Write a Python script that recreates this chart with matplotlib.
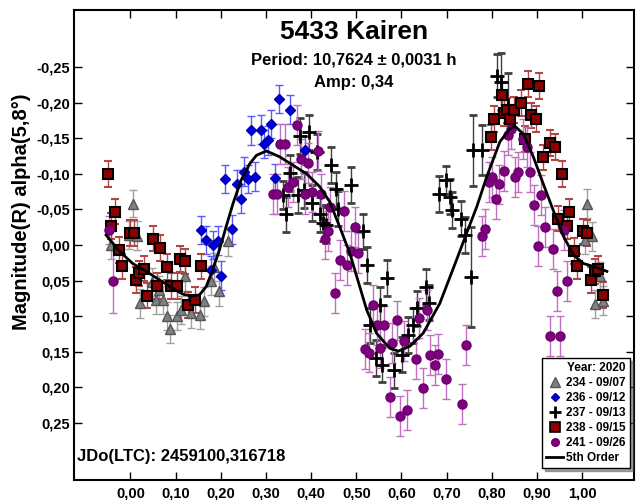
import matplotlib
matplotlib.use('Agg')
import matplotlib.pyplot as plt
from matplotlib.lines import Line2D
from matplotlib.ticker import FuncFormatter

plt.rcParams['font.family'] = ['Liberation Sans', 'DejaVu Sans']
plt.rcParams['font.weight'] = 'bold'

# 234 - 09/07 (grey triangles)
phase_234 = [-0.043, 0.005, -0.004, 0.014, 0.022, 0.048, 0.057, 0.064, 0.073, 0.081, 0.088, 0.103, 0.112,
             0.120, 0.133, 0.154, 0.162, 0.179, 0.186, 0.196, 0.217, 1.012, 1.007, 1.021, 1.029, 1.046, 1.040]
mag_234 = [0.000, -0.058, -0.014, -0.013, 0.082, 0.052, 0.077, 0.063, 0.077, 0.100, 0.118, 0.100, 0.091,
           0.044, 0.096, 0.098, 0.079, 0.050, 0.031, 0.065, -0.005, -0.058, -0.007, -0.012, 0.083, 0.078, 0.044]
err_234 = [0.02, 0.019, 0.02, 0.02, 0.02, 0.02, 0.02, 0.02, 0.02, 0.02, 0.02, 0.02, 0.02,
           0.02, 0.02, 0.02, 0.02, 0.02, 0.02, 0.02, 0.02, 0.02, 0.02, 0.02, 0.02, 0.02, 0.02]

# 236 - 09/12 (blue diamonds)
phase_236 = [0.157, 0.167, 0.179, 0.183, 0.194, 0.201, 0.210, 0.225, 0.236, 0.244, 0.251, 0.260, 0.268,
             0.276, 0.288, 0.295, 0.305, 0.312, 0.319, 0.329, 0.354, 0.386]
mag_236 = [-0.021, -0.007, 0.035, 0.000, -0.006, 0.043, -0.093, -0.022, -0.086, -0.065, -0.103, -0.093, -0.161,
           -0.096, -0.162, -0.142, -0.147, -0.170, -0.094, -0.205, -0.190, -0.133]
err_236 = [0.02, 0.02, 0.02, 0.02, 0.02, 0.02, 0.02, 0.02, 0.02, 0.02, 0.02, 0.02, 0.02,
           0.02, 0.02, 0.02, 0.02, 0.02, 0.02, 0.02, 0.02, 0.02]

# 237 - 09/13 (black crosses)
phase_237 = [0.338, 0.345, 0.353, 0.371, 0.375, 0.384, 0.395, 0.403, 0.412, 0.419, 0.426, 0.432, 0.445,
             0.455, 0.460, 0.489, 0.515, 0.523, 0.530, 0.543, 0.552, 0.558, 0.567, 0.583, 0.602, 0.615,
             0.625, 0.635, 0.654, 0.662, 0.684, 0.698, 0.707, 0.713, 0.731, 0.741, 0.753, 0.759, 0.778,
             0.812, 0.820, 0.837]
mag_237 = [-0.070, -0.043, -0.101, -0.070, -0.153, -0.077, -0.158, -0.059, -0.131, -0.043, -0.031, -0.028, -0.112,
           -0.078, -0.051, -0.084, -0.019, 0.028, 0.113, 0.159, 0.084, 0.168, 0.046, 0.176, 0.154, 0.126,
           0.113, 0.089, 0.059, 0.081, -0.072, -0.091, -0.068, -0.049, -0.037, -0.014, 0.045, -0.133, -0.133,
           -0.238, -0.229, -0.196]
err_237 = [0.02, 0.025, 0.025, 0.025, 0.025, 0.025, 0.025, 0.025, 0.025, 0.025, 0.025, 0.025, 0.025,
           0.025, 0.025, 0.025, 0.025, 0.025, 0.025, 0.025, 0.025, 0.025, 0.025, 0.025, 0.025, 0.025,
           0.025, 0.025, 0.025, 0.025, 0.025, 0.02, 0.025, 0.025, 0.025, 0.025, 0.07, 0.05, 0.035,
           0.03, 0.04, 0.045]

# 238 - 09/15 (dark red squares)
phase_238 = [-0.050, -0.035, -0.043, -0.026, -0.019, -0.002, 0.007, 0.013, 0.020, 0.029, 0.036, 0.050, 0.066,
             0.058, 0.081, 0.089, 0.103, 0.110, 0.120, 0.127, 0.142, 0.157,
             0.798, 0.805, 0.822, 0.827, 0.833, 0.840, 0.849, 0.865, 0.881, 0.905, 0.886, 0.898, 0.874,
             0.914, 0.929, 0.939, 0.955, 0.947, 0.970, 0.966, 0.982, 0.988, 1.003, 1.010, 1.019, 1.029,
             1.036, 1.046]
mag_238 = [-0.100, -0.047, -0.027, 0.007, 0.030, -0.017, -0.017, 0.049, 0.040, 0.033, 0.071, -0.009, 0.004,
           0.058, 0.031, 0.058, 0.058, 0.020, 0.023, 0.084, 0.077, 0.030,
           -0.151, -0.177, -0.210, -0.185, -0.189, -0.177, -0.190, -0.199, -0.226, -0.223, -0.182, -0.177, -0.149,
           -0.123, -0.143, -0.138, -0.100, -0.037, -0.047, -0.026, 0.008, 0.030, -0.019, -0.017, 0.049, 0.037,
           0.033, 0.070]
err_238 = [0.018] * 50

# 241 - 09/26 (purple circles)
phase_241 = [-0.047, -0.039,
             0.316, 0.324, 0.332, 0.343, 0.349, 0.360, 0.369, 0.378, 0.386, 0.393, 0.401, 0.415, 0.421,
             0.430, 0.438, 0.441, 0.452, 0.463, 0.472, 0.480, 0.489, 0.497, 0.504, 0.519, 0.528, 0.536,
             0.545, 0.552, 0.561, 0.574, 0.580, 0.591, 0.596, 0.605, 0.613, 0.632, 0.639, 0.647, 0.656,
             0.663, 0.674, 0.681, 0.698, 0.735, 0.742, 0.778, 0.785, 0.793, 0.801, 0.809, 0.817, 0.827,
             0.837, 0.842, 0.851, 0.859, 0.870, 0.877, 0.885, 0.894, 0.902, 0.910, 0.918, 0.928, 0.936,
             0.944, 0.951, 0.960, 0.967]
mag_241 = [-0.021, 0.051,
           -0.071, -0.071, -0.142, -0.142, -0.081, -0.089, -0.168, -0.121, -0.072, -0.115, -0.075, -0.132, -0.072,
           -0.009, -0.020, -0.054, 0.067, 0.021, -0.048, 0.028, 0.009, -0.025, 0.011, 0.146, 0.151, 0.084,
           0.113, 0.145, 0.113, 0.213, 0.137, 0.106, 0.240, 0.135, 0.232, 0.160, 0.103, 0.201, 0.091,
           0.154, 0.168, 0.153, 0.188, 0.223, 0.141, -0.013, -0.023, -0.089, -0.095, -0.065, -0.085, -0.104,
           -0.154, -0.163, -0.096, -0.103, -0.149, -0.138, -0.103, -0.056, 0.002, -0.070, -0.025, 0.128, 0.006,
           0.065, 0.128, -0.021, 0.051]
err_241 = [0.02, 0.044] + [0.028] * 69

# 5th order fit
fit_phase = [-0.054, -0.024, 0.005, 0.035, 0.064, 0.094, 0.116, 0.135, 0.153, 0.168, 0.182, 0.197, 0.212,
             0.227, 0.245, 0.264, 0.279, 0.301, 0.330, 0.360, 0.390, 0.419, 0.441, 0.463, 0.486, 0.500,
             0.523, 0.545, 0.574, 0.593, 0.619, 0.648, 0.685, 0.722, 0.744, 0.767, 0.789, 0.818, 0.840,
             0.851, 0.870, 0.892, 0.914, 0.936, 0.959, 0.981, 1.003, 1.025, 1.055]
fit_mag = [-0.014, 0.009, 0.026, 0.037, 0.049, 0.061, 0.069, 0.072, 0.070, 0.058, 0.035, 0.007, -0.026,
           -0.058, -0.091, -0.114, -0.126, -0.132, -0.124, -0.112, -0.100, -0.082, -0.061, -0.026, 0.012, 0.042,
           0.091, 0.124, 0.145, 0.149, 0.142, 0.124, 0.082, 0.021, -0.016, -0.054, -0.096, -0.145, -0.163,
           -0.167, -0.156, -0.124, -0.086, -0.049, -0.012, 0.014, 0.026, 0.030, 0.037]

xticks = [0.0, 0.1, 0.2, 0.3, 0.4, 0.5, 0.6, 0.7, 0.8, 0.9, 1.0]
yticks = [-0.25, -0.20, -0.15, -0.10, -0.05, 0.0, 0.05, 0.10, 0.15, 0.20, 0.25]

fig = plt.figure(figsize=(6.41, 5.0), dpi=100)
ax = fig.add_axes([74 / 641, 1 - 480 / 500, 560 / 641, 470 / 500])

ebkw = dict(linestyle='none', elinewidth=1, capsize=3, capthick=1)
ax.errorbar(phase_234, mag_234, yerr=err_234, marker='^', ms=7, mfc='#808080', mec='#555555',
            ecolor='#a0a0a0', **ebkw)
ax.errorbar(phase_236, mag_236, yerr=err_236, marker='D', ms=5, mfc='#0000dd', mec='#0000aa',
            ecolor='#5a5aff', **ebkw)
ax.errorbar(phase_237, mag_237, yerr=err_237, marker='+', ms=10, mew=2, color='black',
            ecolor='#404040', **ebkw)
ax.errorbar(phase_238, mag_238, yerr=err_238, marker='s', ms=7.5, mfc='#8b0000', mec='black', mew=1.5,
            ecolor='#b04848', **ebkw)
ax.errorbar(phase_241, mag_241, yerr=err_241, marker='o', ms=6.5, mfc='#800080', mec='#6a006a',
            ecolor='#c070c0', **ebkw)
ax.plot(fit_phase, fit_mag, color='black', lw=2, zorder=5)

ax.set_xlim(-0.125, 1.115)
ax.set_ylim(0.33, -0.33)
ax.set_xticks(xticks)
ax.set_yticks(yticks)


def comma_fmt(v, pos):
    if abs(v) < 1e-9:
        v = 0.0
    return f"{v:.2f}".replace('.', ',')


ax.xaxis.set_major_formatter(FuncFormatter(comma_fmt))
ax.yaxis.set_major_formatter(FuncFormatter(comma_fmt))
ax.tick_params(direction='in', top=True, right=True, length=6, width=1, labelsize=10.5)
ax.tick_params(axis='x', pad=5)
ax.tick_params(axis='y', pad=3)
for sp in ax.spines.values():
    sp.set_linewidth(1.5)

fig.text(354 / 641, 1 - 32 / 500, '5433 Kairen', ha='center', va='center', fontsize=19, weight='bold')
fig.text(354 / 641, 1 - 60 / 500, 'Period: 10,7624 \u00b1 0,0031 h', ha='center', va='center',
         fontsize=12, weight='bold')
fig.text(354 / 641, 1 - 82 / 500, 'Amp: 0,34', ha='center', va='center', fontsize=12, weight='bold')
fig.text(77 / 641, 1 - 456 / 500, 'JDo(LTC): 2459100,316718', ha='left', va='center', fontsize=12,
         weight='bold')
fig.text(22 / 641, 1 - 212 / 500, 'Magnitude(R) alpha(5,8\u00b0)', rotation=90, ha='center', va='center',
         fontsize=14.5, weight='bold')

handles = [
    Line2D([], [], ls='none', marker='^', ms=6.5, mfc='#808080', mec='#555555'),
    Line2D([], [], ls='none', marker='D', ms=4.5, mfc='#0000dd', mec='#0000aa'),
    Line2D([], [], ls='none', marker='+', ms=8.5, mew=2, color='black'),
    Line2D([], [], ls='none', marker='s', ms=7.5, mfc='#8b0000', mec='black', mew=1.2),
    Line2D([], [], ls='none', marker='o', ms=5.5, mfc='#800080', mec='#6a006a'),
    Line2D([], [], color='black', lw=2),
]
labels = ['234 - 09/07', '236 - 09/12', '237 - 09/13', '238 - 09/15', '241 - 09/26', '5th Order']
leg = ax.legend(handles, labels, title='Year: 2020', loc='lower right', bbox_to_anchor=(0.993, 0.025),
                borderaxespad=0, prop={'size': 8.5, 'weight': 'bold'},
                title_fontproperties={'size': 8.5, 'weight': 'bold'}, alignment='right',
                frameon=True, fancybox=False, shadow=True, edgecolor='black', framealpha=1,
                handlelength=1.4, handletextpad=0.3, borderpad=0.35, labelspacing=0.25)
leg.get_frame().set_linewidth(1)

fig.savefig('out.png', dpi=100)
